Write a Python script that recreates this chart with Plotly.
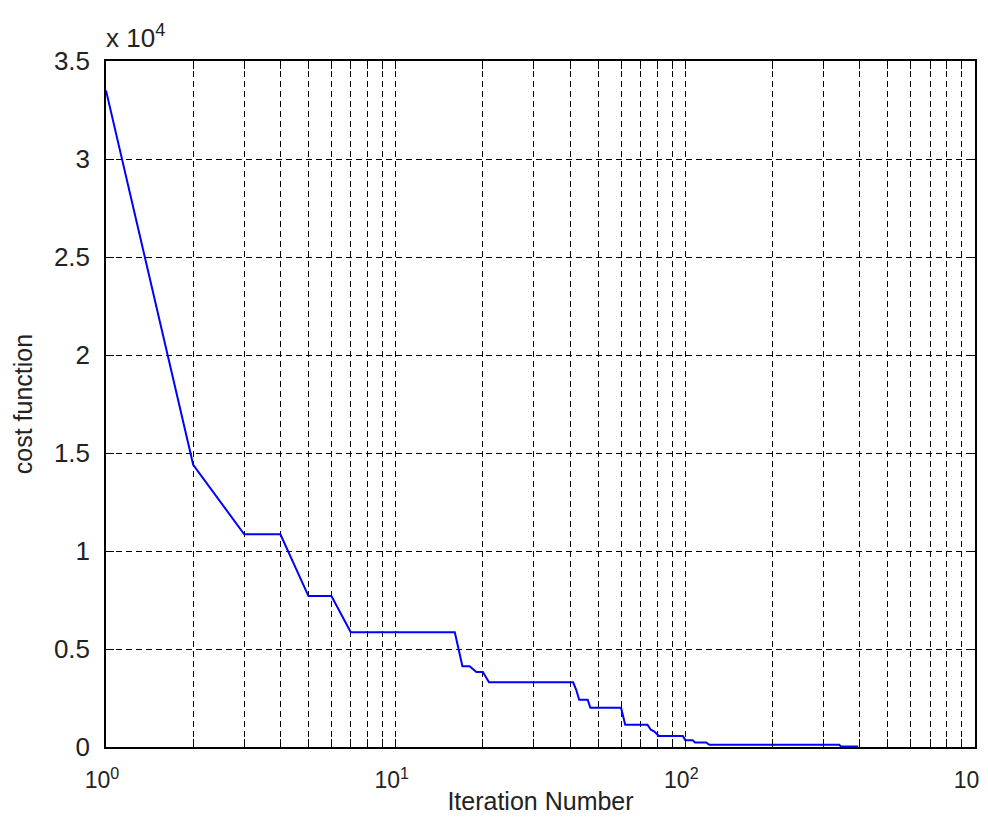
import plotly.graph_objects as go

# Data (iteration number vs cost function)
iterations = [1, 2, 3, 4, 5, 6, 7, 16, 17, 18, 19, 20, 21, 41, 42, 43, 46, 47,
              60, 62, 74, 76, 78, 81, 98, 100, 106, 108, 118, 121, 340, 345, 395]
cost = [33500, 14400, 10850, 10850, 7700, 7700, 5850, 5850, 4120, 4120, 3830, 3830,
        3300, 3300, 2920, 2410, 2410, 2000, 2000, 1140, 1140, 880, 800, 560, 560,
        350, 350, 230, 230, 110, 110, 20, 20]

y_tickvals = [0, 5000, 10000, 15000, 20000, 25000, 30000, 35000]
y_ticktext = ["0", "0.5", "1", "1.5", "2", "2.5", "3", "3.5"]

x_tickvals = [m * 10 ** d for d in range(3) for m in range(1, 10)] + [1000]
x_major = {1: "10<sup>0</sup>", 10: "10<sup>1</sup>", 100: "10<sup>2</sup>", 1000: "10<sup>3</sup>"}
x_ticktext = [x_major.get(v, "") for v in x_tickvals]

FONT = "Liberation Sans, Arial, sans-serif"
TXT = "#222222"

fig = go.Figure()
fig.add_trace(go.Scatter(x=iterations, y=cost, mode="lines",
                         line=dict(color="#0000FF", width=2), showlegend=False))

axis_common = dict(
    showline=True, linecolor="black", linewidth=1.5, mirror="allticks",
    ticks="inside", ticklen=8, tickwidth=1, tickcolor="black",
    showgrid=True, gridcolor="black", gridwidth=1, griddash="6px,4px",
    zeroline=False, automargin=False,
)

fig.update_xaxes(type="log", range=[0, 3], tickmode="array",
                 tickvals=x_tickvals, ticktext=x_ticktext,
                 ticklabelstandoff=12, ticklabelshift=-4,
                 tickfont=dict(family=FONT, size=23, color=TXT),
                 title=dict(text="Iteration Number", font=dict(family=FONT, size=25, color=TXT), standoff=0),
                 **axis_common)
fig.update_yaxes(range=[0, 35000], tickmode="array",
                 tickvals=y_tickvals, ticktext=y_ticktext, ticklabelstandoff=9,
                 tickfont=dict(family=FONT, size=26, color=TXT),
                 title=dict(text="cost function", font=dict(family=FONT, size=25, color=TXT), standoff=14),
                 **axis_common)

fig.add_annotation(x=0, y=1, xref="paper", yref="paper", xanchor="left", yanchor="bottom",
                   text="x 10<sup>4</sup>", showarrow=False, xshift=-2, yshift=6,
                   font=dict(family=FONT, size=26, color=TXT))

fig.update_layout(width=988, height=818, margin=dict(l=98, r=21, t=53, b=79),
                  plot_bgcolor="white", paper_bgcolor="white")

fig.write_html("out.html")
